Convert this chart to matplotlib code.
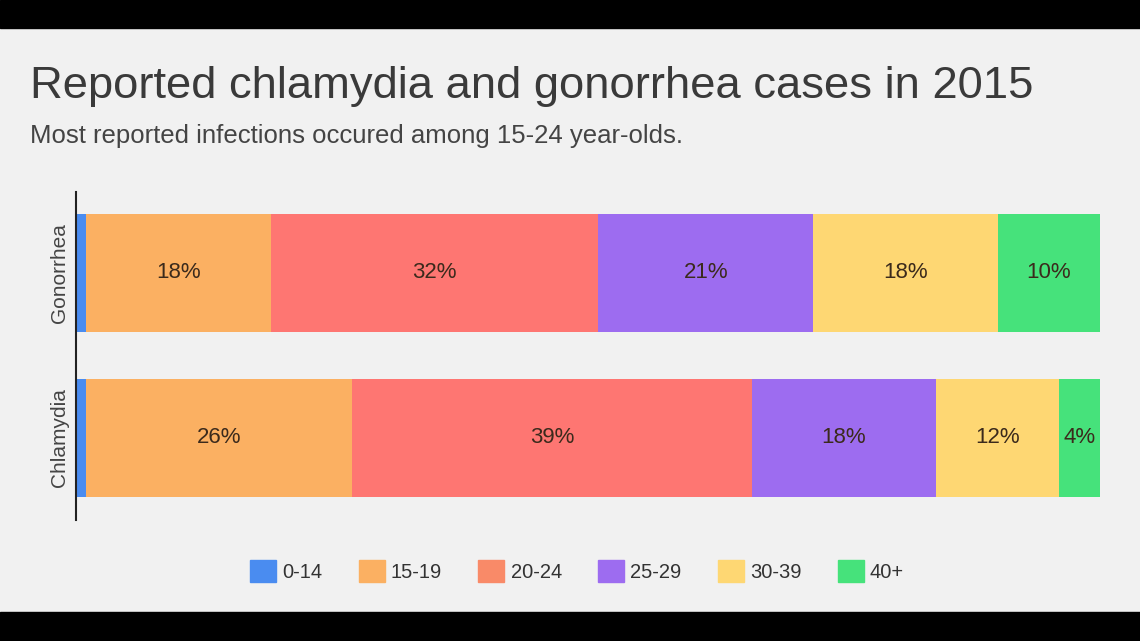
import numpy as np
import matplotlib.pyplot as plt
from matplotlib.patches import Rectangle

# data
diseases = ["Chlamydia", "Gonorrhea"]
age_groups = ["0-14", "15-19", "20-24", "25-29", "30-39", "40+"]
chlamydia = [1, 26, 39, 18, 12, 4]
gonorrhea = [1, 18, 32, 21, 18, 10]
shown = ["", "26%", "39%", "18%", "12%", "4%"], ["", "18%", "32%", "21%", "18%", "10%"]

bar_colors = ["#4a8cf0", "#fbb062", "#fe7672", "#9d6cf0", "#fed773", "#46e27b"]
legend_colors = ["#4a8cf0", "#fbb062", "#f98a68", "#9d6cf0", "#fed773", "#46e27b"]

plt.rcParams['font.family'] = ['Liberation Sans', 'DejaVu Sans']

fig = plt.figure(figsize=(11.4, 6.41), dpi=100)
fig.patch.set_facecolor("#f1f1f1")

# black letterbox bands
fig.patches.append(Rectangle((0, 1 - 28/641), 1, 28/641, transform=fig.transFigure,
                             color="black", zorder=0))
fig.patches.append(Rectangle((0, 0), 1, 29/641, transform=fig.transFigure,
                             color="black", zorder=0))

ax = fig.add_axes([76/1140, 1 - 520/641, 1024/1140, 328/641])
ax.set_facecolor("#f1f1f1")

data = np.array([chlamydia, gonorrhea])
ypos = np.arange(len(diseases))
left = np.zeros(len(diseases))
for j in range(len(age_groups)):
    ax.barh(ypos, data[:, j], left=left, height=0.715, color=bar_colors[j],
            edgecolor="none")
    for i in range(len(diseases)):
        txt = shown[i][j]
        if txt:
            ax.text(left[i] + data[i, j] / 2, ypos[i], txt, ha="center", va="center",
                    fontsize=16, color="#3b2a1c")
    left += data[:, j]

ax.set_xlim(0, 100)
ax.set_ylim(-0.5, 1.49)
ax.set_yticks(ypos)
ax.set_yticklabels(diseases, rotation=90, va="center", fontsize=15, color="#444444")
ax.tick_params(axis="y", length=0, pad=5)
ax.set_xticks([])
for s in ["top", "right", "bottom"]:
    ax.spines[s].set_visible(False)
ax.spines["left"].set_color("#222222")
ax.spines["left"].set_linewidth(1.5)

fig.text(30/1140, 1 - 98/641, "Reported chlamydia and gonorrhea cases in 2015",
         fontsize=32.7, color="#3a3a3a", ha="left", va="baseline")
fig.text(30/1140, 1 - 143/641, "Most reported infections occured among 15-24 year-olds.",
         fontsize=18.5, color="#444444", ha="left", va="baseline")

handles = [Rectangle((0, 0), 1, 1, color=c) for c in legend_colors]
leg = fig.legend(handles, age_groups, loc="center", bbox_to_anchor=(577/1140, 1 - 571/641),
                 ncol=6, frameon=False, fontsize=14.5, handlelength=1.3, handleheight=1.3,
                 handletextpad=0.3, columnspacing=1.8, labelcolor="#333333")

fig.savefig("out.png", dpi=100, facecolor=fig.get_facecolor())
